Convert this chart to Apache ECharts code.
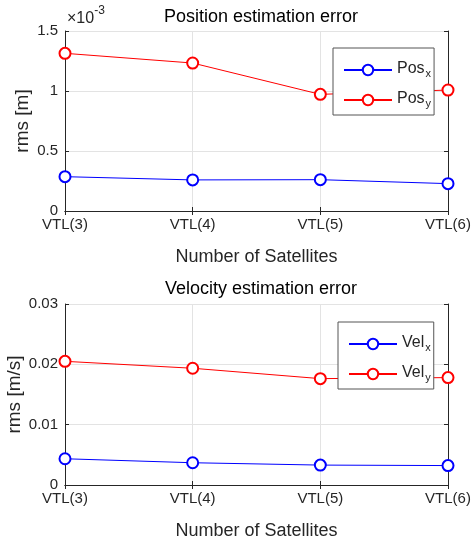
<!DOCTYPE html>
<html>
<head>
<meta charset="utf-8">
<script src="https://cdn.jsdelivr.net/npm/echarts@6/dist/echarts.min.js"></script>
<style>
  html, body { margin: 0; padding: 0; background: #fff; }
  #main { width: 475px; height: 546px; }
</style>
</head>
<body>
<div id="main"></div>
<script>
const categories = ["VTL(3)", "VTL(4)", "VTL(5)", "VTL(6)"];
const posX = [0.000286, 0.000259, 0.000261, 0.000228];
const posY = [0.001314, 0.001233, 0.000972, 0.001008];
const velX = [0.00435, 0.00369, 0.00330, 0.00322];
const velY = [0.0205, 0.01935, 0.01763, 0.0178];
const posTicks = [0, 0.0005, 0.001, 0.0015];
const velTicks = [0, 0.01, 0.02, 0.03];

const FONT = "Liberation Sans";
const TXT = "#262626";
const chart = echarts.init(document.getElementById("main"));

const grids = [
  { left: 65, top: 31, width: 383, height: 180, outerBoundsMode: "none", containLabel: false },
  { left: 65, top: 304, width: 383, height: 181, outerBoundsMode: "none", containLabel: false }
];

function xAxes(gi) {
  return [
    {
      type: "category", gridIndex: gi, data: categories, boundaryGap: false,
      axisLine: { lineStyle: { color: TXT, width: 1 } },
      axisTick: { inside: true, length: 4, lineStyle: { color: TXT } },
      axisLabel: { color: TXT, fontSize: 15, fontFamily: FONT, margin: 6 },
      splitLine: { show: true, lineStyle: { color: "#e3e3e3" } },
      name: "Number of Satellites", nameLocation: "middle", nameGap: 37,
      nameMoveOverlap: false,
      nameTextStyle: { color: TXT, fontSize: 18, fontFamily: FONT }
    },
    {
      type: "category", gridIndex: gi, data: categories, boundaryGap: false, position: "top",
      axisLine: { lineStyle: { color: TXT, width: 1 } },
      axisTick: { inside: true, length: 4, lineStyle: { color: TXT } },
      axisLabel: { show: false }, splitLine: { show: false }
    }
  ];
}

function yAxes(gi, ticks, name, gap, fmt) {
  const base = {
    type: "value", gridIndex: gi, min: ticks[0], max: ticks[ticks.length - 1],
    interval: ticks[1] - ticks[0]
  };
  return [
    Object.assign({}, base, {
      axisLine: { show: true, lineStyle: { color: TXT, width: 1 } },
      axisTick: { show: true, inside: true, length: 4, lineStyle: { color: TXT } },
      axisLabel: { color: TXT, fontSize: 15, fontFamily: FONT, margin: 7, formatter: fmt },
      splitLine: { show: true, lineStyle: { color: "#e3e3e3" } },
      name: name, nameLocation: "middle", nameGap: gap, nameRotate: 90,
      nameMoveOverlap: false,
      nameTextStyle: { color: TXT, fontSize: 19, fontFamily: FONT }
    }),
    Object.assign({}, base, {
      position: "right",
      axisLine: { show: true, lineStyle: { color: TXT, width: 1 } },
      axisTick: { show: true, inside: true, length: 4, lineStyle: { color: TXT } },
      axisLabel: { show: false }, splitLine: { show: false }
    })
  ];
}

function line(name, data, color, xi, yi) {
  return {
    name: name, type: "line", data: data, xAxisIndex: xi, yAxisIndex: yi,
    symbol: "emptyCircle", symbolSize: 11, showSymbol: true,
    lineStyle: { color: color, width: 1 },
    itemStyle: { color: color, borderColor: color, borderWidth: 1.2 },
    emphasis: { disabled: true }, animation: false
  };
}

function legend(names, left, top) {
  return {
    data: names, orient: "vertical", left: left, top: top,
    itemWidth: 48, itemHeight: 13, itemGap: 5,
    padding: [6, 3, 6, 10],
    backgroundColor: "#fff", borderColor: "#555", borderWidth: 1,
    selectedMode: false,
    formatter: n => {
      const p = n.split("_");
      return "{m|" + p[0] + "}{s|" + p[1] + "}";
    },
    textStyle: {
      color: TXT, fontFamily: FONT,
      rich: {
        m: { fontSize: 16, lineHeight: 18, verticalAlign: "top", color: TXT, fontFamily: FONT },
        s: { fontSize: 11, lineHeight: 11, verticalAlign: "bottom", padding: [14, 0, 0, 1], color: TXT, fontFamily: FONT }
      }
    }
  };
}

const option = {
  backgroundColor: "#fff",
  animation: false,
  title: [
    { text: "Position estimation error", left: 256, top: 3, textAlign: "center",
      textStyle: { color: "#000", fontSize: 18, fontWeight: "normal", fontFamily: FONT } },
    { text: "Velocity estimation error", left: 256, top: 275, textAlign: "center",
      textStyle: { color: "#000", fontSize: 18, fontWeight: "normal", fontFamily: FONT } }
  ],
  grid: grids,
  xAxis: xAxes(0).concat(xAxes(1)),
  yAxis: yAxes(0, posTicks, "rms [m]", 33, v => String(+(v * 1000).toFixed(1)))
    .concat(yAxes(1, velTicks, "rms [m/s]", 41, v => String(+v.toFixed(2)))),
  legend: [
    legend(["Pos_x", "Pos_y"], 333, 48),
    legend(["Vel_x", "Vel_y"], 338, 322)
  ],
  graphic: [
    {
      type: "text", left: 67, top: 5,
      style: {
        text: "{a|×10}{b|-3}", fill: TXT,
        rich: {
          a: { fontSize: 16, fontFamily: FONT, verticalAlign: "bottom", padding: [6, 0, 0, 0], fill: TXT },
          b: { fontSize: 12, fontFamily: FONT, verticalAlign: "top", fill: TXT }
        }
      }
    }
  ],
  series: [
    line("Pos_x", posX, "#0000ff", 0, 0),
    line("Pos_y", posY, "#ff0000", 0, 0),
    line("Vel_x", velX, "#0000ff", 2, 2),
    line("Vel_y", velY, "#ff0000", 2, 2)
  ]
};
chart.setOption(option);
</script>
</body>
</html>
